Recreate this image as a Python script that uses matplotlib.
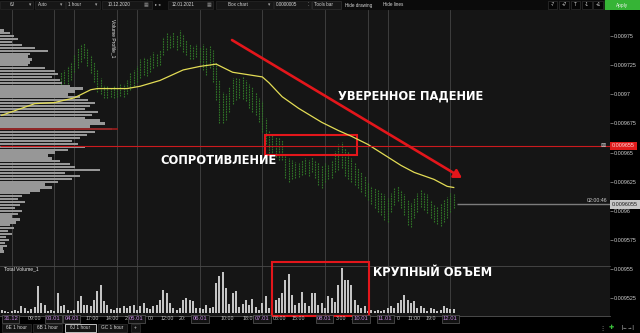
import numpy as np
import matplotlib
matplotlib.use("Agg")
import matplotlib.pyplot as plt
from matplotlib.patches import Rectangle
from matplotlib.transforms import blended_transform_factory as blend

plt.rcParams['font.family'] = ['Liberation Sans', 'DejaVu Sans']

# 6J 1 hour, 31.12 - 12.01 (bar number on x)
bar_index = list(range(18, 138))
high = [
    0.009719, 0.009721, 0.009724, 0.009728, 0.009734, 0.009740, 0.009743, 0.009744, 0.009740, 0.009734,
    0.009728, 0.009721, 0.009714, 0.009708, 0.009707, 0.009706, 0.009707, 0.009706, 0.009709, 0.009709,
    0.009712, 0.009718, 0.009721, 0.009724, 0.009730, 0.009732, 0.009730, 0.009733, 0.009736, 0.009735,
    0.009738, 0.009749, 0.009753, 0.009751, 0.009754, 0.009751, 0.009755, 0.009752, 0.009747, 0.009743,
    0.009742, 0.009743, 0.009741, 0.009743, 0.009740, 0.009742, 0.009738, 0.009728, 0.009712, 0.009702,
    0.009700, 0.009706, 0.009714, 0.009715, 0.009714, 0.009716, 0.009712, 0.009709, 0.009706, 0.009702,
    0.009697, 0.009694, 0.009680, 0.009669, 0.009665, 0.009663, 0.009663, 0.009661, 0.009648, 0.009645,
    0.009644, 0.009642, 0.009641, 0.009644, 0.009645, 0.009644, 0.009646, 0.009644, 0.009642, 0.009639,
    0.009641, 0.009639, 0.009644, 0.009651, 0.009657, 0.009659, 0.009654, 0.009651, 0.009645, 0.009641,
    0.009637, 0.009633, 0.009630, 0.009625, 0.009621, 0.009620, 0.009618, 0.009616, 0.009614, 0.009611,
    0.009615, 0.009620, 0.009621, 0.009618, 0.009614, 0.009609, 0.009607, 0.009611, 0.009615, 0.009618,
    0.009616, 0.009614, 0.009609, 0.009605, 0.009603, 0.009607, 0.009609, 0.009612, 0.009615, 0.009614,
]
low = [
    0.009706, 0.009707, 0.009709, 0.009712, 0.009719, 0.009723, 0.009728, 0.009731, 0.009724, 0.009718,
    0.009711, 0.009702, 0.009700, 0.009697, 0.009697, 0.009698, 0.009697, 0.009698, 0.009699, 0.009698,
    0.009700, 0.009704, 0.009707, 0.009711, 0.009714, 0.009717, 0.009716, 0.009719, 0.009723, 0.009724,
    0.009725, 0.009734, 0.009738, 0.009740, 0.009741, 0.009738, 0.009742, 0.009736, 0.009734, 0.009730,
    0.009730, 0.009732, 0.009728, 0.009721, 0.009717, 0.009723, 0.009711, 0.009695, 0.009675, 0.009675,
    0.009678, 0.009685, 0.009692, 0.009695, 0.009697, 0.009696, 0.009694, 0.009688, 0.009685, 0.009682,
    0.009676, 0.009668, 0.009657, 0.009650, 0.009648, 0.009646, 0.009644, 0.009644, 0.009628, 0.009625,
    0.009627, 0.009628, 0.009629, 0.009631, 0.009632, 0.009630, 0.009633, 0.009628, 0.009622, 0.009620,
    0.009625, 0.009627, 0.009628, 0.009633, 0.009635, 0.009637, 0.009630, 0.009627, 0.009625, 0.009622,
    0.009620, 0.009616, 0.009613, 0.009609, 0.009606, 0.009602, 0.009599, 0.009596, 0.009592, 0.009590,
    0.009599, 0.009605, 0.009608, 0.009602, 0.009596, 0.009588, 0.009586, 0.009594, 0.009599, 0.009603,
    0.009601, 0.009598, 0.009594, 0.009590, 0.009589, 0.009587, 0.009590, 0.009594, 0.009599, 0.009602,
]

# total volume per hour, bars 0..137
volume = [
    100, 50, 20, 50, 100, 50, 200, 150, 50, 120, 170, 800, 300, 250, 50, 100, 50, 600, 200, 250,
    100, 50, 100, 350, 500, 250, 250, 200, 400, 650, 850, 350, 250, 120, 100, 150, 150, 200, 150, 200,
    250, 100, 200, 300, 150, 120, 200, 250, 400, 700, 600, 300, 150, 100, 150, 400, 450, 400, 350, 150,
    150, 120, 240, 150, 180, 900, 1110, 1230, 750, 270, 600, 660, 180, 270, 390, 240, 420, 180, 90, 300,
    510, 150, 210, 390, 450, 600, 990, 1170, 540, 240, 300, 630, 300, 210, 600, 600, 240, 300, 150, 510,
    450, 330, 840, 1350, 990, 990, 840, 390, 240, 150, 210, 60, 90, 60, 90, 60, 90, 150, 210, 150,
    300, 390, 540, 390, 300, 360, 150, 210, 150, 60, 150, 120, 60, 90, 210, 150, 120, 120,
]

# moving average
ma_index = [0, 10, 16, 22, 27, 29, 38, 42, 48, 55, 60, 65, 70, 79, 81, 85, 90, 97, 102, 106,
            111, 116, 121, 125, 131, 135, 137]
ma_price = [0.009682, 0.009692, 0.009693, 0.009697, 0.009704, 0.009705, 0.009705, 0.009707,
            0.009712, 0.009721, 0.009724, 0.009726, 0.009719, 0.009715, 0.009710, 0.009698,
            0.009688, 0.009676, 0.009669, 0.009664, 0.009657, 0.009648, 0.009639, 0.009633,
            0.009627, 0.009621, 0.009620]

# volume profile, one row per 0.0000025 from the top level down
profile_top = 0.009755
profile_step = 0.0000025
profile_volume = [
    40, 100, 140, 180, 120, 220, 350, 480, 300, 280,
    320, 300, 280, 450, 550, 580, 520, 600, 620, 700,
    830, 750, 680, 800, 880, 950, 900, 850, 980, 920,
    850, 1000, 1050, 900, 1120, 950, 870, 800, 720, 780,
    850, 680, 550, 480, 520, 600, 700, 750, 1000, 650,
    800, 720, 580, 450, 520, 400, 300, 220, 180, 250,
    200, 150, 220, 180, 120, 200, 160, 100, 140, 80,
    120, 60, 90, 50, 70, 30, 40,
]

resistance = 0.009655
last_price = 0.0096055
price_ticks = [0.009525, 0.00955, 0.009575, 0.0096, 0.009625, 0.00965, 0.009675,
               0.0097, 0.009725, 0.00975]
session_breaks = [3, 16, 22, 35, 41, 60, 79, 98, 111, 117, 136]
date_pos = [2.8, 15.6, 21.3, 40.9, 60.1, 78.9, 97.7, 108.9, 116.2, 135.9]
date_text = ['31.12', '03.01', '04.01', '05.01', '06.01', '07.01', '08.01', '10.01', '11.01', '12.01']
time_pos = [10.1, 27.4, 33.4, 37.7, 45.3, 50.1, 54.7, 68.3, 75.0, 84.3, 89.8, 102.8, 106.2,
            120.1, 125.0, 130.1]
time_text = ['09:00', '17:00', '14:00', '2', '00', '12:00', '20:', '10:00', '18:00', '08:00',
             '15:00', '3:00', '1', '0', '11:00', '19:0']

RED = '#e3161b'
W, H = 640, 333
fig = plt.figure(figsize=(W / 100, H / 100), dpi=100, facecolor='black')


def fx(px):
    return px / W


def fy(py):
    return 1 - py / H


XLIM = (-0.5, 184.35)
YLIM = (0.0095096, 0.0097725)
rect = [0, fy(316), fx(610), (316 - 10) / H]

# price pane
main = fig.add_axes(rect, zorder=0)
main.set_facecolor('#151515')
main.set_xlim(*XLIM)
main.set_ylim(*YLIM)
for s in main.spines.values():
    s.set_visible(False)
main.spines['bottom'].set_visible(True)
main.spines['bottom'].set_color('#555555')
main.spines['bottom'].set_linewidth(0.6)
main.set_xticks([])
main.yaxis.tick_right()
main.set_yticks(price_ticks)
main.set_yticklabels([f'{p:.6f}'.rstrip('0') for p in price_ticks])
main.tick_params(axis='y', length=2, width=0.5, color='#9a9a9a', pad=1,
                 labelsize=3.9, labelcolor='#cfcfcf')
for b in session_breaks:
    main.axvline(b, color='#444444', lw=0.6, zorder=0)
main.vlines(bar_index, low, high, colors='#2f7427', lw=0.8,
            linestyles=(0, (1.5, 0.8)), zorder=2)

# volume profile on the left
prof = fig.add_axes(rect, zorder=1)
prof.set_facecolor('none')
prof.set_xlim(0, 6100)
prof.set_ylim(*YLIM)
prof.axis('off')
levels = profile_top - profile_step * np.arange(len(profile_volume))
prof.barh(levels, profile_volume, height=profile_step * 0.78, left=0, color='#979797')
poc = int(np.argmax(profile_volume))
prof.hlines(levels[poc], 0, profile_volume[poc] * 1.05, color='#8e1c1c', lw=1.3)
prof.text(113 / 610, 0.97, 'Volume Profile_1', transform=prof.transAxes, rotation=-90,
          ha='center', va='top', fontsize=3.6, color='#e8e8e8')

# total volume pane
vol = fig.add_axes([0, fy(313), fx(610), 47 / H], zorder=1)
vol.set_facecolor('none')
vol.set_xlim(*XLIM)
vol.set_ylim(0, 1410)
for s in vol.spines.values():
    s.set_visible(False)
vol.spines['top'].set_visible(True)
vol.spines['top'].set_color('#4a4a4a')
vol.spines['top'].set_linewidth(0.6)
vol.set_xticks([])
vol.set_yticks([])
vol.bar(range(len(volume)), volume, width=0.62, color='#c4c4c4')
vol.text(4 / 610, 1.0, 'Total Volume_1', transform=vol.transAxes, ha='left', va='top',
         fontsize=3.6, color='#e8e8e8')

# overlay: average, levels, drawings
ov = fig.add_axes(rect, zorder=2)
ov.set_facecolor('none')
ov.set_xlim(*XLIM)
ov.set_ylim(*YLIM)
ov.axis('off')
ov.plot(ma_index, ma_price, color='#e3dc55', lw=0.9)
ov.hlines(resistance + 0.0000007, XLIM[0], XLIM[1], color='#cc1a1e', lw=0.8)
ov.hlines(last_price, 138, XLIM[1], color='#7c7c7c', lw=1.0)
ov.add_patch(Rectangle((79.8, 0.0096479), 27.9, 0.0000172, fill=False, ec=RED, lw=1.5))
ov.add_patch(Rectangle((81.9, 0.0095096), 29.4, 0.0000464, fill=False, ec=RED, lw=1.5,
                       clip_on=False))
ov.annotate('', xy=(139.5, 0.0096282), xytext=(69.8, 0.0097467),
            arrowprops=dict(arrowstyle='-|>,head_length=0.5,head_width=0.3', color=RED,
                            lw=1.9, shrinkA=0, shrinkB=0, mutation_scale=9))
cap = dict(color='white', fontsize=8.3, fontweight='bold', family='DejaVu Sans',
           ha='left', va='center')
ov.text(101.9, 0.0096986, 'УВЕРЕННОЕ ПАДЕНИЕ', **cap)
ov.text(48.0, 0.0096436, 'СОПРОТИВЛЕНИЕ', **cap)
ov.text(112.5, 0.0095466, 'КРУПНЫЙ ОБЪЕМ', **cap)

edge = blend(ov.transAxes, ov.transData)
ov.text(607 / 610, last_price + 0.0000012, '02:00:46', transform=edge, ha='right',
        va='bottom', fontsize=3.8, color='#cfcfcf')
ov.text(603 / 610, resistance + 0.0000007, '⊠', transform=edge, ha='center', va='center',
        fontsize=4.5, color='#d0d0d0', family=['DejaVu Sans'])
ov.text(1 + 2 / 610, resistance + 0.0000007, '0.009655', transform=edge, ha='left',
        va='center', fontsize=3.9, color='#ffd9d9', clip_on=False,
        bbox=dict(boxstyle='square,pad=0.35', fc='#e01b1b', ec='none'))
ov.text(1 + 2 / 610, last_price, '0.0096055', transform=edge, ha='left', va='center',
        fontsize=3.9, color='#1a1a1a', clip_on=False,
        bbox=dict(boxstyle='square,pad=0.3', fc='#c8c8c8', ec='none'))

# time axis labels
tx = blend(ov.transData, fig.transFigure)
for p, t in zip(time_pos, time_text):
    ov.text(p, fy(319), t, transform=tx, ha='center', va='center', fontsize=3.8,
            color='#bdbdbd', clip_on=False, zorder=3)
for p, t in zip(date_pos, date_text):
    ov.text(p, fy(319), t, transform=tx, ha='center', va='center', fontsize=4.2,
            color='#c58ae0', clip_on=False, zorder=4,
            bbox=dict(boxstyle='square,pad=0.2', fc='#121212', ec='#5a5a5a', lw=0.5))

# top toolbar
tb = fig.add_axes([0, fy(10), 1, 10 / H], zorder=5)
tb.set_xlim(0, W)
tb.set_ylim(10, 0)
tb.axis('off')
tb.add_patch(Rectangle((0, 0), W, 10, color='#0b0b0b'))
for x0, x1 in [(0, 33), (35, 65), (66, 100), (102, 152), (168, 213), (216, 273), (274, 311)]:
    tb.add_patch(Rectangle((x0, 0.8), x1 - x0, 8.4, fc='#161616', ec='#2e2e2e', lw=0.4))
ui = dict(fontsize=3.3, color='#d6d6d6', va='center')
for x, t in [(10, '6J'), (38, 'Auto'), (68, '1 hour'), (108, '10.12.2020'),
             (172, '12.01.2021'), (228, 'Box chart'), (276, '0.0000005'),
             (345, 'Hide drawing'), (383, 'Hide lines')]:
    tb.text(x, 5, t, ha='left', **ui)
for x in [30, 61, 96, 269]:
    tb.text(x, 5, '▾', ha='center', fontsize=3.3, color='#aaaaaa', va='center')
for x in [146, 209]:
    tb.text(x, 5, '▦', ha='center', fontsize=3.6, color='#8a8a8a', va='center')
tb.text(158, 5, '▸ ◂', ha='center', fontsize=3.0, color='#bbbbbb', va='center')
tb.text(308, 5, '⁚', ha='center', fontsize=3.6, color='#bbbbbb', va='center')
tb.add_patch(Rectangle((312, 0.8), 29, 8.4, fc='#161616', ec='#3a3a3a', lw=0.4))
tb.text(314, 5, 'Tools bar', ha='left', **ui)
for x0, x1, t in [(548, 557, '-7'), (559, 569, '+7'), (571, 580, 'T'), (582, 592, '-1'),
                  (593, 603, '+1')]:
    tb.add_patch(Rectangle((x0, 0.8), x1 - x0, 8.4, fc='#050505', ec='#3a3a3a', lw=0.4))
    tb.text((x0 + x1) / 2, 5, t, ha='center', **ui)
tb.add_patch(Rectangle((605, 0), 35, 9.5, color='#36b436'))
tb.text(622.5, 5, 'Apply', ha='center', va='center', fontsize=3.4, color='#f0f0f0')

# bottom instrument tabs
bt = fig.add_axes([0, 0, 1, 11 / H], zorder=5)
bt.set_xlim(0, W)
bt.set_ylim(333, 322)
bt.axis('off')
for x0, x1, t, sel in [(2, 31, '6E 1 hour', False), (33, 62, '6B 1 hour', False),
                       (65, 96, '6J 1 hour', True), (98, 127, 'GC 1 hour', False),
                       (131, 140, '+', False)]:
    bt.add_patch(Rectangle((x0, 323.5), x1 - x0, 8.5, fc='#141414',
                           ec='#dddddd' if sel else '#3c3c3c', lw=0.6 if sel else 0.4))
    bt.text((x0 + x1) / 2, 327.8, t, ha='center', va='center', fontsize=3.4,
            color='#d6d6d6')
bt.text(602, 327.8, '⋮', ha='center', va='center', fontsize=4.5, color='#bbbbbb')
bt.text(611, 327.8, '✚', ha='center', va='center', fontsize=4.5, color='#3cc43c')
bt.text(628, 327.8, '|←→|', ha='center', va='center', fontsize=3.6, color='#cccccc')

fig.savefig('out.png', dpi=100, facecolor='black')
